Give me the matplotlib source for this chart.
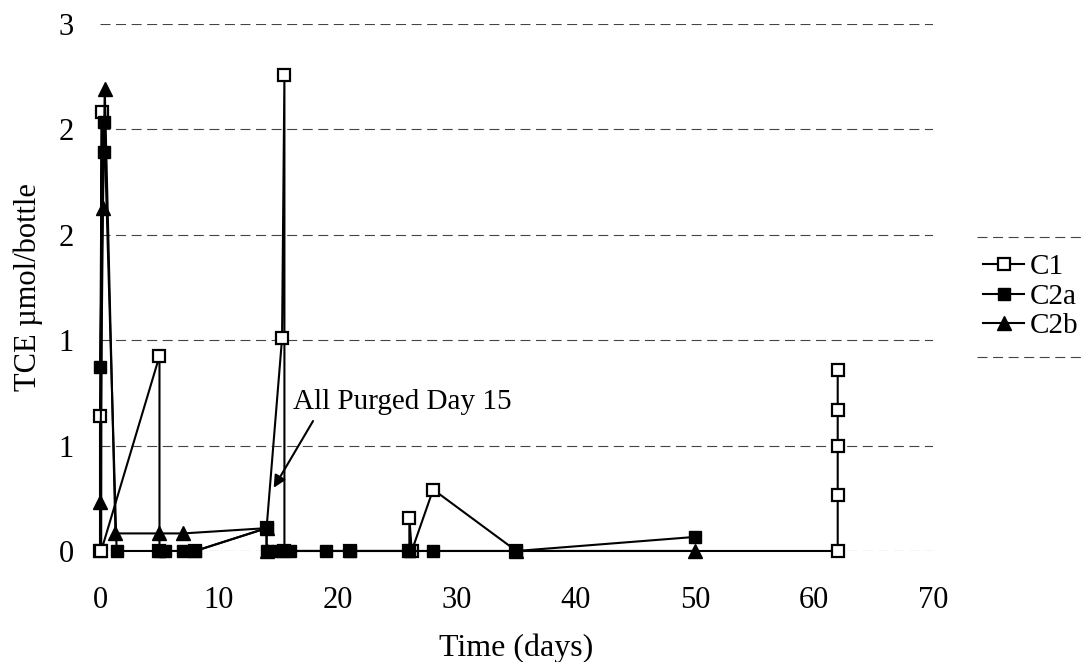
import matplotlib
matplotlib.use("Agg")
import matplotlib.pyplot as plt
from matplotlib.lines import Line2D

# values (days, TCE umol/bottle)
c1_days = [0, 0, 0.15, 0.1, 5, 5, 8, 14, 15.3, 15.5, 15.5, 21, 26, 26, 26.2, 28, 35, 62, 62, 62, 62, 62]
c1_vals = [0, 0.77, 2.5, 0, 1.11, 0, 0, 0.13, 1.21, 2.71, 0, 0, 0, 0.19, 0, 0.35, 0, 0, 0.32, 0.6, 0.8, 1.03]

c2a_days = [0, 0.3, 0.35, 1.4, 5, 5.5, 7, 8, 14, 14, 15, 16, 19, 21, 26, 28, 35, 50]
c2a_vals = [1.05, 2.27, 2.44, 0, 0, 0, 0, 0, 0.13, 0, 0, 0, 0, 0, 0, 0, 0, 0.08]

c2b_days = [0, 0.25, 0.4, 1.3, 5, 7, 14, 14, 35, 50]
c2b_vals = [0.28, 1.95, 2.63, 0.1, 0.1, 0.1, 0.13, 0, 0, 0]

y_ticks = [0, 0.6, 1.2, 1.8, 2.4, 3.0]
y_tick_labels = ["0", "1", "1", "2", "2", "3"]
x_ticks = [0, 10, 20, 30, 40, 50, 60, 70]

plt.rcParams["font.family"] = ["Liberation Serif", "DejaVu Serif"]

fig = plt.figure(figsize=(10.81, 6.62), dpi=100)
ax = fig.add_axes([0.0925, 0.1677, 0.7705, 0.796])

line_kw = dict(color="black", lw=1.5, clip_on=False, zorder=3)
ax.plot(c1_days, c1_vals, marker="s", ms=8.5, mfc="white", mec="black", mew=1.6,
        label="C1", **line_kw)
ax.plot(c2a_days, c2a_vals, marker="s", ms=9, mfc="black", mec="black",
        label="C2a", **line_kw)
ax.plot(c2b_days, c2b_vals, marker="^", ms=10, mfc="black", mec="black",
        label="C2b", **line_kw)

ax.set_xlim(0, 70)
ax.set_ylim(0, 3)
ax.set_xticks(x_ticks)
ax.set_yticks(y_ticks)
ax.set_yticklabels(y_tick_labels)
ax.tick_params(axis="x", length=0, pad=25, labelsize=22)
ax.tick_params(axis="y", length=0, pad=19, labelsize=22)
for s in ax.spines.values():
    s.set_visible(False)
ax.grid(axis="y", color="#444444", lw=0.8, linestyle=(0, (9, 5)))
ax.set_axisbelow(True)

ax.set_xlabel("Time (days)", fontsize=23)
ax.xaxis.set_label_coords(0.5, -0.156)
ax.set_ylabel("TCE \u00b5mol/bottle", fontsize=22)
ax.yaxis.set_label_coords(-0.068, 0.5)

ax.annotate("All Purged Day 15", xy=(14.6, 0.36), xytext=(16.2, 0.85),
            ha="left", va="center", fontsize=21,
            arrowprops=dict(arrowstyle="-|>", color="black", lw=1.5,
                            mutation_scale=18, relpos=(0.11, 0.0),
                            shrinkA=3, shrinkB=0))

leg = fig.legend(loc="center left", bbox_to_anchor=(0.880, 0.552), frameon=False,
                 fontsize=21, handlelength=1.4, handletextpad=0.2,
                 labelspacing=0.1, borderpad=0.6)

# scanned legend box only shows its top and bottom edges
fig.canvas.draw()
bb = leg.get_window_extent().transformed(fig.transFigure.inverted())
for yy in (bb.y0, bb.y1):
    fig.add_artist(Line2D([bb.x0 + 0.01, bb.x1], [yy, yy], transform=fig.transFigure,
                          color="#444444", lw=0.8, linestyle=(0, (9, 5))))

fig.savefig("out.png", dpi=100)
